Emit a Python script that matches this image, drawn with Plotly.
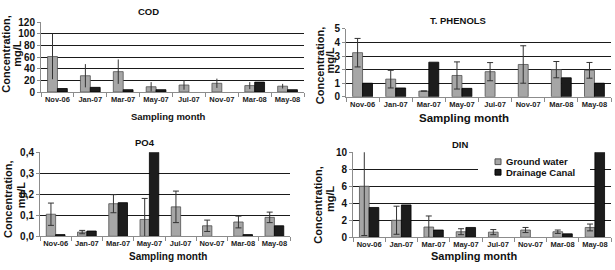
import plotly.graph_objects as go

months = ["Nov-06", "Jan-07", "Mar-07", "May-07", "Jul-07", "Nov-07", "Mar-08", "May-08"]

cod_gw = [61, 28, 35, 9, 12, 15, 11, 10]
cod_gw_err = [39, 20, 21, 8, 8, 8, 6, 4]
cod_dc = [6, 8, 4, 4, None, None, 17, 4]

phen_gw = [3.25, 1.3, 0.42, 1.57, 1.85, 2.38, 2.0, 1.95]
phen_gw_err = [1.05, 0.65, None, 1.0, 0.67, 1.38, 0.6, 0.58]
phen_dc = [1.0, 0.65, 2.55, 0.62, None, None, 1.4, 1.0]

po4_gw = [0.105, 0.02, 0.155, 0.08, 0.14, 0.05, 0.068, 0.09]
po4_gw_err = [0.053, 0.008, 0.043, 0.1, 0.075, 0.027, 0.028, 0.025]
po4_dc = [0.008, 0.025, 0.16, 0.4, None, None, 0.008, 0.05]

din_gw = [6.0, 2.0, 1.2, 0.65, 0.6, 0.85, 0.65, 1.15]
din_gw_err = [5.8, 1.65, 1.3, 0.35, 0.3, 0.3, 0.2, 0.4]
din_dc = [3.5, 3.8, 0.85, 1.15, None, None, 0.4, 10.0]

series_names = ["Ground water", "Drainage Canal"]

W, H = 615, 270
GW_COLOR = "#a6a6a6"
DC_COLOR = "#1c1c1c"
FONT = "Liberation Sans"

def px(x):
    return x / W

def py(y):
    return 1 - y / H

panels = [
    dict(title="COD", gw=cod_gw, err=cod_gw_err, dc=cod_dc, x0=41, x1=304, yt=17, yb=90,
         rng=[0, 120], dtick=20, fmt="d", cap=0, xtitle=9.5,
         title_xy=(148, 6), xt_xy=(168, 116), c_xy=(6, 50), m_xy=(17, 50)),
    dict(title="T. PHENOLS", gw=phen_gw, err=phen_gw_err, dc=phen_dc, x0=346, x1=611, yt=24, yb=95,
         rng=[0, 5], dtick=1, fmt="d", cap=3, xtitle=11.5,
         title_xy=(458, 15), xt_xy=(464, 117), c_xy=(320, 62), m_xy=(330, 57)),
    dict(title="PO4", gw=po4_gw, err=po4_gw_err, dc=po4_dc, x0=40, x1=290, yt=153, yb=241,
         rng=[0, 0.4], dtick=0.1, fmt=".1f", cap=3, xtitle=10,
         title_xy=(145, 143), xt_xy=(168, 262), c_xy=(8, 202), m_xy=(21, 198)),
    dict(title="DIN", gw=din_gw, err=din_gw_err, dc=din_dc, x0=353, x1=611, yt=153, yb=242,
         rng=[0, 10], dtick=2, fmt="d", cap=3, xtitle=11,
         title_xy=(460, 145), xt_xy=(474, 262), c_xy=(318, 208), m_xy=(330, 202)),
]

fig = go.Figure()
annotations = []

def ann(text, xy, size, angle=0, xanchor="center"):
    annotations.append(dict(text=text, x=px(xy[0]), y=py(xy[1]), xref="paper", yref="paper",
                            xanchor=xanchor, yanchor="middle", showarrow=False, textangle=angle,
                            font=dict(family=FONT, size=size, color="#111111", weight="bold")))

for i, p in enumerate(panels, start=1):
    xa = "x" if i == 1 else f"x{i}"
    ya = "y" if i == 1 else f"y{i}"
    fig.add_trace(go.Bar(
        x=months, y=p["gw"], name=series_names[0], xaxis=xa, yaxis=ya,
        marker=dict(color=GW_COLOR, line=dict(color="#505050", width=0.8)),
        error_y=dict(type="data", array=p["err"], visible=True, color="#333333",
                     thickness=1, width=p["cap"]),
        showlegend=False,
    ))
    fig.add_trace(go.Bar(
        x=months, y=p["dc"], name=series_names[1], xaxis=xa, yaxis=ya,
        marker=dict(color=DC_COLOR, line=dict(color="#000000", width=0.8)),
        showlegend=False,
    ))
    xkey = "xaxis" if i == 1 else f"xaxis{i}"
    ykey = "yaxis" if i == 1 else f"yaxis{i}"
    fig.layout[xkey] = dict(
        domain=[px(p["x0"]), px(p["x1"])], anchor=ya, type="category",
        showline=True, linecolor="#8c8c8c", linewidth=1,
        ticks="outside", tickson="boundaries", ticklen=4, tickcolor="#8c8c8c",
        tickfont=dict(family=FONT, size=7.5, color="#222222", weight="bold"),
        showgrid=False, fixedrange=True, tickangle=0,
    )
    fig.layout[ykey] = dict(
        domain=[py(p["yb"]), py(p["yt"])], anchor=xa, range=p["rng"], dtick=p["dtick"],
        tickformat=p["fmt"], showline=True, linecolor="#8c8c8c", linewidth=1,
        ticks="outside", ticklen=3, tickcolor="#8c8c8c",
        tickfont=dict(family=FONT, size=10, color="#111111", weight="bold"),
        showgrid=True, gridcolor="#1a1a1a", gridwidth=1, zeroline=False, fixedrange=True,
    )
    ann(p["title"], p["title_xy"], 9.5)
    ann("Sampling month", p["xt_xy"], p["xtitle"])
    ann("Concentration,", p["c_xy"], 11, angle=-90)
    ann("mg/L", p["m_xy"], 11, angle=-90)

# Manual legend inside the DIN panel
shapes = [dict(type="rect", xref="paper", yref="paper", x0=px(478), x1=px(590),
               y0=py(186), y1=py(156), fillcolor="white", line=dict(width=0), layer="above")]
leg_rows = [(series_names[0], GW_COLOR, "#505050", 163), (series_names[1], DC_COLOR, "#000000", 174)]
for name, fill, edge, yy in leg_rows:
    shapes.append(dict(type="rect", xref="paper", yref="paper", x0=px(495), x1=px(501),
                       y0=py(yy + 3), y1=py(yy - 3), fillcolor=fill, line=dict(color=edge, width=1),
                       layer="above"))
    ann(name, (504, yy), 9.5, xanchor="left")

fig.update_layout(
    width=W, height=H, margin=dict(l=0, r=0, t=0, b=0),
    paper_bgcolor="white", plot_bgcolor="white",
    barmode="group", bargap=0.4, bargroupgap=0.0,
    separators=",.", showlegend=False,
    annotations=annotations, shapes=shapes,
)

fig.write_html("out.html", config={"displayModeBar": False},
               post_script="document.body.style.margin='0';document.body.style.padding='0';")
